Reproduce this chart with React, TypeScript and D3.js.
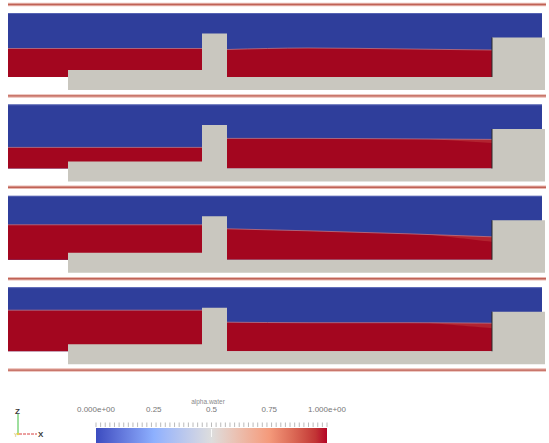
import React from 'react';
import * as d3 from 'd3';

const W = 549;
const H = 443;

// Flume geometry, metres
const flumeLength = 5.37;
const flumeHeight = 0.77;
const airEnd = 5.34;
const inletFloor = 0.13;
const stepStart = 0.6;
const stepTop = 0.2;
const weirStart = 1.94;
const weirEnd = 2.19;
const weirTop = 0.565;
const outletStart = 4.84;
const outletTop = 0.525;

// Upstream water level for each snapshot
const upstreamLevels = [0.415, 0.34, 0.48, 0.54];
// Downstream stations and free-surface heights per snapshot
const downstreamX = [2.19, 3.0, 4.0, 4.84];
const downstreamLevels = [
  [0.405, 0.42, 0.41, 0.4],
  [0.43, 0.43, 0.425, 0.42],
  [0.44, 0.42, 0.39, 0.36],
  [0.42, 0.415, 0.415, 0.41],
];
// Thickness of the diffuse interface close to the outlet
const mixingStart = 4.2;
const mixingDepth = [0.0, 0.035, 0.05, 0.05];

// Colour legend
const colorTitle = 'alpha.water';
const colorTicks = [0, 0.25, 0.5, 0.75, 1];
const colorTickLabels = ['0.000e+00', '0.25', '0.5', '0.75', '1.000e+00'];
const coolWarm = ['#3b4cc0', '#8db0fe', '#dddddd', '#f49a7b', '#b40426'];

const airColor = '#2f3e9b';
const waterColor = '#a3061f';
const solidColor = '#c9c7bf';
const frameColor = '#bf6256';

const panelTop0 = 13;
const panelPitch = 91.4;
const panelHeight = 77;

export default function App() {
  const x = d3.scaleLinear().domain([0, flumeLength]).range([8, 545]);
  const cmap = d3.piecewise(d3.interpolateLab, coolWarm);
  const cx = d3.scaleLinear().domain([0, 1]).range([96, 327]);

  const solidOutline: [number, number][] = [
    [stepStart, 0],
    [stepStart, stepTop],
    [weirStart, stepTop],
    [weirStart, weirTop],
    [weirEnd, weirTop],
    [weirEnd, inletFloor],
    [outletStart, inletFloor],
    [outletStart, outletTop],
    [flumeLength, outletTop],
    [flumeLength, 0],
  ];

  const panels = upstreamLevels.map((lvl, i) => {
    const top = panelTop0 + i * panelPitch;
    const y = d3.scaleLinear().domain([0, flumeHeight]).range([top + panelHeight, top]);
    const pts: [number, number][] = downstreamX.map((dx, k) => [dx, downstreamLevels[i][k]]);
    const surf = d3
      .line<[number, number]>()
      .x((d) => x(d[0]))
      .y((d) => y(d[1]))
      .curve(d3.curveMonotoneX);
    const water = d3
      .area<[number, number]>()
      .x((d) => x(d[0]))
      .y0(y(inletFloor))
      .y1((d) => y(d[1]))
      .curve(d3.curveMonotoneX);
    const upstream: [number, number][] = [
      [0, lvl],
      [weirStart, lvl],
    ];
    // diffuse layer just below the surface near the outlet
    const interp = d3.scaleLinear().domain(downstreamX).range(downstreamLevels[i]);
    const mixPts = d3.range(mixingStart, outletStart + 0.001, 0.04).map((mx) => {
      const s = interp(mx);
      const t = (mx - mixingStart) / (outletStart - mixingStart);
      return { mx, top: s, bot: s - mixingDepth[i] * t };
    });
    const mixArea = d3
      .area<{ mx: number; top: number; bot: number }>()
      .x((d) => x(d.mx))
      .y0((d) => y(d.bot))
      .y1((d) => y(d.top));
    const solidPath = d3
      .line<[number, number]>()
      .x((d) => x(d[0]))
      .y((d) => y(d[1]))(solidOutline) + 'Z';
    return (
      <g key={i}>
        <rect
          x={x(0)}
          y={y(flumeHeight)}
          width={x(airEnd) - x(0)}
          height={y(inletFloor) - y(flumeHeight)}
          fill={airColor}
        />
        <line
          x1={x(0)}
          x2={x(airEnd)}
          y1={y(flumeHeight) + 0.5}
          y2={y(flumeHeight) + 0.5}
          stroke="#6f7cc4"
          strokeWidth={1}
          opacity={0.6}
        />
        <path d={water(upstream) || ''} fill={waterColor} />
        <path d={water(pts) || ''} fill={waterColor} />
        {mixingDepth[i] > 0 && (
          <path d={mixArea(mixPts) || ''} fill="#c9504a" opacity={0.4} />
        )}
        <path d={surf(upstream) || ''} fill="none" stroke="#c27a86" strokeWidth={1} opacity={0.75} />
        <path d={surf(pts) || ''} fill="none" stroke="#c27a86" strokeWidth={1} opacity={0.75} />
        <path d={solidPath} fill={solidColor} />
        <line
          x1={x(outletStart)}
          x2={x(outletStart)}
          y1={y(outletTop)}
          y2={y(inletFloor)}
          stroke="#2a2a2a"
          strokeWidth={1.5}
          opacity={0.65}
        />
      </g>
    );
  });

  const frameLines = d3.range(upstreamLevels.length + 1).map((i) => panelTop0 + i * panelPitch - 8.5);
  const minorTicks = d3.range(0, 1.0001, 0.02);

  return (
    <svg
      width={W}
      height={H}
      viewBox={`0 0 ${W} ${H}`}
      style={{ position: 'absolute', left: 0, top: 0, background: '#ffffff' }}
      fontFamily="Liberation Sans, Arial, sans-serif"
    >
      <defs>
        <linearGradient id="cbar" x1="0" x2="1" y1="0" y2="0">
          {d3.range(0, 1.0001, 0.05).map((t) => (
            <stop key={t} offset={t} stopColor={cmap(t)} />
          ))}
        </linearGradient>
      </defs>
      {frameLines.map((fy, i) => (
        <g key={i}>
          <line x1={8} x2={546} y1={fy} y2={fy} stroke="#e8b8b0" strokeWidth={3.5} />
          <line x1={8} x2={546} y1={fy} y2={fy} stroke={frameColor} strokeWidth={1.4} />
        </g>
      ))}
      {panels}

      {/* orientation axes */}
      <g>
        <line x1={18} x2={18} y1={433} y2={414} stroke="#3fbf3f" strokeWidth={1} />
        <line x1={19} x2={37} y1={434} y2={434} stroke="#d84040" strokeWidth={1} strokeDasharray="3 1" />
        <circle cx={18} cy={434} r={1.3} fill="#e6d84a" />
        <text x={15} y={414} fontSize={8} fontWeight="bold" fill="#3a3a3a">Z</text>
        <text x={38} y={437} fontSize={8} fontWeight="bold" fill="#3a3a3a">X</text>
        <text x={14} y={437} fontSize={5} fill="#b8a830">Y</text>
      </g>

      {/* colour legend */}
      <text x={208} y={404} fontSize={6.5} fill="#8a8a8a" textAnchor="middle">{colorTitle}</text>
      {colorTicks.map((t, i) => (
        <text key={t} x={cx(t)} y={412} fontSize={8} fill="#777" textAnchor="middle">
          {colorTickLabels[i]}
        </text>
      ))}
      {minorTicks.map((t) => (
        <line key={t} x1={cx(t)} x2={cx(t)} y1={422.5} y2={427} stroke="#aaaaaa" strokeWidth={0.8} />
      ))}
      <rect x={cx(0)} y={428} width={cx(1) - cx(0)} height={15} fill="url(#cbar)" />
      <line x1={cx(0.5)} x2={cx(0.5)} y1={429} y2={437} stroke="#ffffff" strokeWidth={0.8} />
    </svg>
  );
}
